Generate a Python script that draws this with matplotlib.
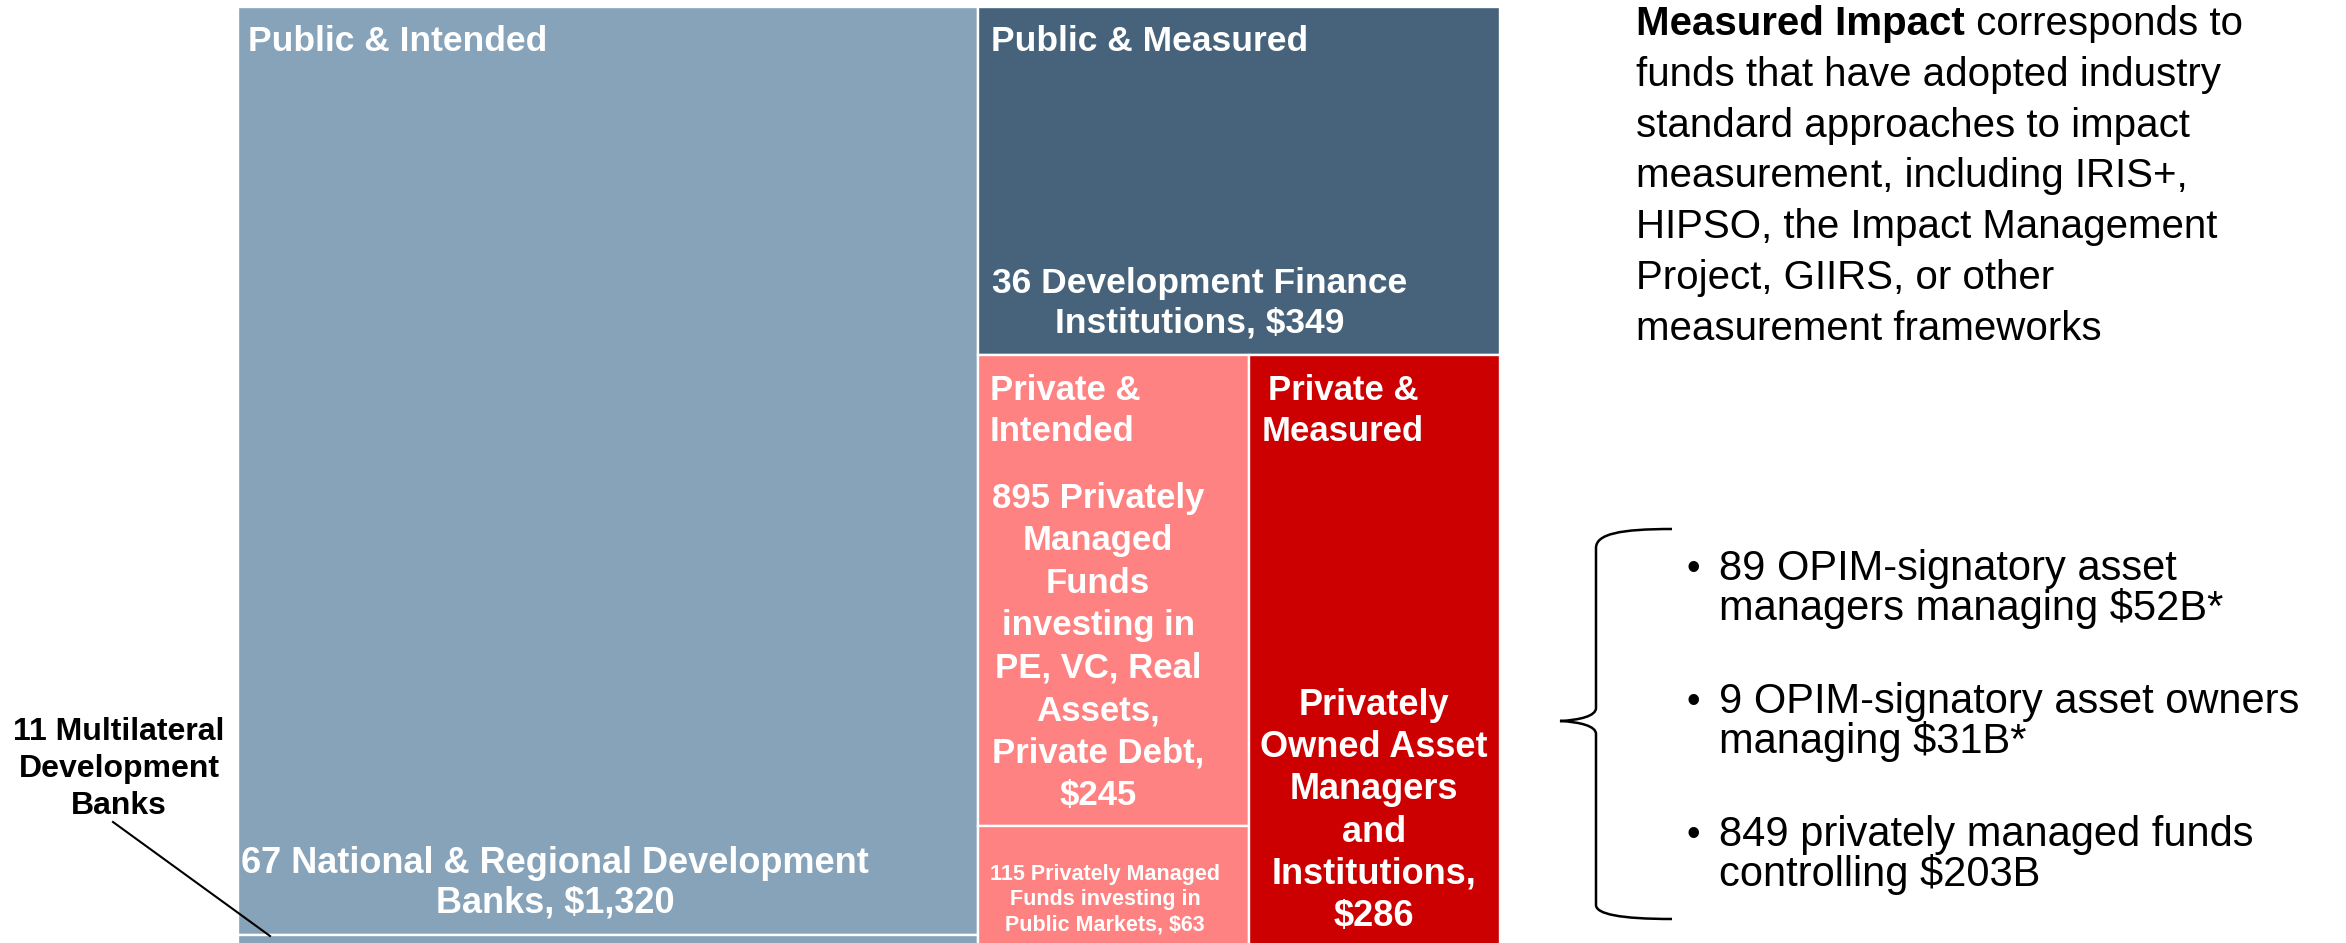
import matplotlib.pyplot as plt
from matplotlib.patches import Rectangle, PathPatch
from matplotlib.path import Path

plt.rcParams['font.family'] = ['Liberation Sans', 'DejaVu Sans']

# %% Assets under management, $B
public_intended = 1320      # 67 National & Regional Development Banks
mdb = 17                    # 11 Multilateral Development Banks (thin strip, cut off)
dfi = 349                   # 36 Development Finance Institutions
private_intended = 245      # 895 privately managed funds (PE, VC, ...)
private_public_mkts = 63    # 115 privately managed funds, public markets
private_measured = 286      # privately owned asset managers and institutions

c_pub_int = '#87a3b9'
c_pub_meas = '#47637c'
c_priv_int = '#ff8282'
c_priv_meas = '#cc0000'

W, H = 2346, 943
fig = plt.figure(figsize=(W / 100, H / 100), dpi=100)

# %% Treemap (unit square, y downwards)
tm = fig.add_axes([238 / W, -4 / H, 1262 / W, 940 / H])
tm.set_xlim(0, 1)
tm.set_ylim(1, 0)
tm.axis('off')


def box(x, y, w, h, color):
    tm.add_patch(Rectangle((x, y), w, h, facecolor=color,
                           edgecolor='white', lw=1.7))


left_total = public_intended + mdb
right_total = dfi + private_intended + private_public_mkts + private_measured
xl = left_total / (left_total + right_total)

h_pi = public_intended / left_total
box(0, 0, xl, h_pi, c_pub_int)
box(0, h_pi, xl, 1 - h_pi, c_pub_int)

wr = 1 - xl
h_dfi = dfi / right_total
box(xl, 0, wr, h_dfi, c_pub_meas)
rest = right_total - dfi
wa = wr * (private_intended + private_public_mkts) / rest
h_a = (1 - h_dfi) * private_intended / (private_intended + private_public_mkts)
box(xl, h_dfi, wa, h_a, c_priv_int)
box(xl, h_dfi + h_a, wa, 1 - h_dfi - h_a, c_priv_int)
box(xl + wa, h_dfi, wr - wa, 1 - h_dfi, c_priv_meas)

# %% Overlay in pixel coordinates for labels and annotations
ov = fig.add_axes([0, 0, 1, 1])
ov.set_xlim(0, W)
ov.set_ylim(H, 0)
ov.axis('off')


def lines_text(x, y0, lines, step, size, ha='center', color='white', weight='bold'):
    for i, s in enumerate(lines):
        ov.text(x, y0 + i * step, s, ha=ha, va='baseline', fontsize=size,
                color=color, fontweight=weight)


lines_text(248, 51, ['Public & Intended'], 0, 25.5, ha='left')
lines_text(991, 51, ['Public & Measured'], 0, 25.5, ha='left')
lines_text(1200, 293, ['36 Development Finance', 'Institutions, $349'], 40, 25.5)
lines_text(555, 873, ['67 National & Regional Development', 'Banks, $1,320'], 40, 26)
lines_text(990, 400, ['Private &', 'Intended'], 41, 25, ha='left')
lines_text(1343, 400, ['Private &', 'Measured'], 41, 25)
lines_text(1098, 508, ['895 Privately', 'Managed', 'Funds', 'investing in',
                       'PE, VC, Real', 'Assets,', 'Private Debt,', '$245'], 42.4, 25)
lines_text(1105, 880, ['115 Privately Managed', 'Funds investing in',
                       'Public Markets, $63'], 25.5, 15.5)
lines_text(1374, 715, ['Privately', 'Owned Asset', 'Managers', 'and',
                       'Institutions,', '$286'], 42.2, 26)

# MDB call-out
lines_text(119, 740, ['11 Multilateral', 'Development', 'Banks'], 37, 23, color='black')
ov.plot([113, 270], [822, 936], color='black', lw=1.5)

# Definition text
t = ov.text(1636, 35, 'Measured Impact', fontsize=29, fontweight='bold',
            va='baseline', ha='left')
ov.annotate(' corresponds to', xy=(1, 0), xycoords=t, fontsize=29,
            va='bottom', ha='left')
lines_text(1636, 35 + 50.8, ['funds that have adopted industry',
                             'standard approaches to impact',
                             'measurement, including IRIS+,',
                             'HIPSO, the Impact Management',
                             'Project, GIIRS, or other',
                             'measurement frameworks'], 50.8, 29,
           ha='left', color='black', weight='normal')

# Brace
verts = [(1672, 529), (1620, 529), (1596, 534), (1596, 548),
         (1596, 708),
         (1596, 716), (1580, 720), (1560, 721),
         (1580, 722), (1596, 726), (1596, 734),
         (1596, 905),
         (1596, 914), (1620, 919), (1672, 919)]
codes = [Path.MOVETO, Path.CURVE4, Path.CURVE4, Path.CURVE4,
         Path.LINETO,
         Path.CURVE4, Path.CURVE4, Path.CURVE4,
         Path.CURVE4, Path.CURVE4, Path.CURVE4,
         Path.LINETO,
         Path.CURVE4, Path.CURVE4, Path.CURVE4]
ov.add_patch(PathPatch(Path(verts, codes), facecolor='none', edgecolor='black', lw=1.8))

# Bullets
bullets = [['89 OPIM-signatory asset', 'managers managing $52B*'],
           ['9 OPIM-signatory asset owners', 'managing $31B*'],
           ['849 privately managed funds', 'controlling $203B']]
for i, b in enumerate(bullets):
    y = 580 + i * 133
    ov.text(1686, y, '\u2022', fontsize=28, va='baseline', ha='left')
    lines_text(1719, y, b, 40, 30, ha='left', color='black', weight='normal')

fig.savefig('out.png', dpi=100)
